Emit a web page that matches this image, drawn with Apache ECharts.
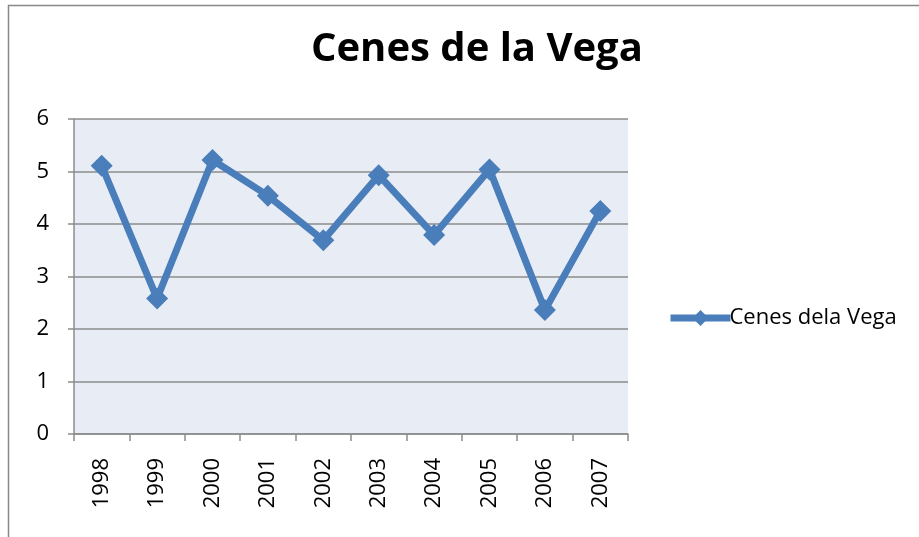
<!DOCTYPE html>
<html>
<head>
    <meta charset="utf-8">
    <title>Cenes de la Vega</title>
    <script src="https://cdn.jsdelivr.net/npm/echarts@6/dist/echarts.min.js"></script>
    <style>
        *{ padding: 0; margin: 0; }
        html, body{ width: 100%; height: 100%; background: #fff; }
        #chart{ width: 919px; height: 537px; }
    </style>
</head>
<body>
<div id="chart"></div>
<script>
    // datos
    var years = ['1998', '1999', '2000', '2001', '2002', '2003', '2004', '2005', '2006', '2007'];
    var valores = [5.11, 2.58, 5.22, 4.54, 3.69, 4.93, 3.79, 5.04, 2.36, 4.25];
    var yTicks = [0, 1, 2, 3, 4, 5, 6];

    var azul = '#4A7EBB';
    var gris = '#8C8C8C';
    var font = '"Open Sans", "Noto Sans", sans-serif';

    var myChart = echarts.init(document.getElementById('chart'));
    myChart.setOption({
        backgroundColor: '#fff',
        animation: false,
        title: {
            text: 'Cenes de la Vega',
            left: 306,
            top: 25,
            textStyle: { fontFamily: font, fontWeight: 'bold', fontSize: 40, color: '#000' }
        },
        graphic: [{
            type: 'rect',
            shape: { x: 8.5, y: 5.5, width: 930, height: 560 },
            style: { fill: 'none', stroke: '#888', lineWidth: 1.5 },
            silent: true
        }],
        legend: {
            data: ['Cenes dela Vega'],
            left: 662,
            top: 302,
            itemWidth: 60,
            itemHeight: 20,
            itemGap: 4,
            lineStyle: { width: 7 },
            textStyle: { fontFamily: font, fontSize: 22, color: '#000', padding: [0, 0, 0, -6] }
        },
        grid: {
            left: 74, right: 291, top: 119, bottom: 103,
            show: true,
            backgroundColor: '#E8ECF4',
            borderWidth: 0
        },
        xAxis: {
            type: 'category',
            data: years,
            boundaryGap: true,
            axisLine: { lineStyle: { color: gris, width: 1.5 } },
            axisTick: { show: true, length: 7, lineStyle: { color: gris, width: 1.5 } },
            axisLabel: { rotate: 90, margin: 24, fontFamily: font, fontSize: 22, color: '#000' }
        },
        yAxis: {
            type: 'value',
            min: yTicks[0],
            max: yTicks[yTicks.length - 1],
            interval: 1,
            axisLine: { show: true, lineStyle: { color: gris, width: 1.5 } },
            axisTick: { show: true, length: 6, lineStyle: { color: gris, width: 1.5 } },
            axisLabel: { margin: 25, fontFamily: font, fontSize: 22, color: '#000' },
            splitLine: { show: true, lineStyle: { color: gris, width: 1.5 } }
        },
        series: [{
            name: 'Cenes dela Vega',
            type: 'line',
            data: valores,
            symbol: 'diamond',
            symbolSize: 22,
            itemStyle: { color: azul },
            lineStyle: { color: azul, width: 7 }
        }]
    });
</script>
</body>
</html>
